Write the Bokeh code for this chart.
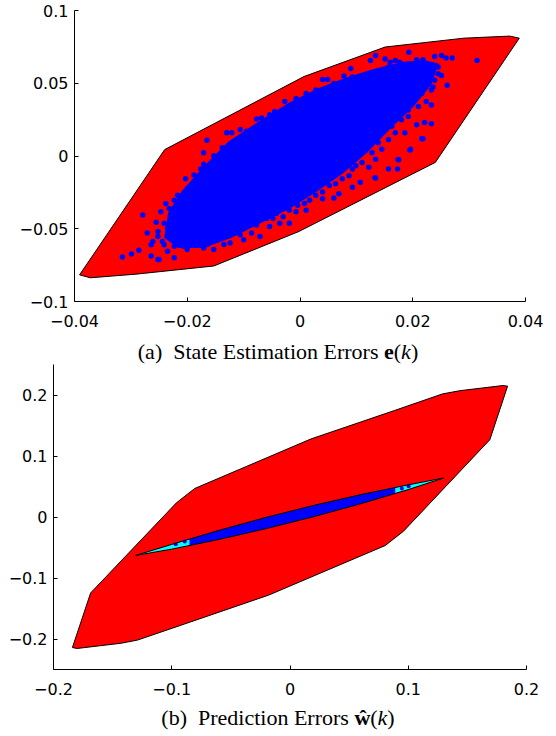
from bokeh.plotting import figure
from bokeh.models import Range1d, Div, FixedTicker, Spacer
from bokeh.layouts import column, row
from bokeh.embed import file_html
from bokeh.resources import INLINE

# ---------------- (a) State estimation errors ----------------
hull_a_x = [-0.0391, -0.0240, 0.0007, 0.0151, 0.0291, 0.0372, 0.0389, 0.0240, -0.0002, -0.0153, -0.0291, -0.0372]
hull_a_y = [-0.0817, 0.0044, 0.0546, 0.0749, 0.0810, 0.0824, 0.0810, -0.0044, -0.0519, -0.0756, -0.0812, -0.0837]

# dense (solid blue) part of the error cloud
core_a_x = [-0.0210, -0.0171, -0.0127, -0.0070, -0.0019, 0.0031, 0.0081, 0.0132, 0.0183, 0.0220, 0.0246,
            0.0233, 0.0202, 0.0163, 0.0120, 0.0076, 0.0031, -0.0019, -0.0070, -0.0121, -0.0171, -0.0216,
            -0.0241, -0.0234]
core_a_y = [-0.0243, -0.0072, 0.0099, 0.0245, 0.0367, 0.0464, 0.0538, 0.0599, 0.0648, 0.0660, 0.0636,
            0.0489, 0.0342, 0.0197, 0.0026, -0.0121, -0.0243, -0.0365, -0.0462, -0.0561, -0.0633, -0.0633,
            -0.0561, -0.0390]

# individual samples around the dense part
pts_a_x = [-0.0279, -0.0299, -0.0286, -0.0271, -0.0255, -0.0252, -0.0264, -0.0250, -0.0238, -0.0232,
           -0.0223, -0.0217, -0.0203, -0.0188, -0.0176, -0.0171, -0.0165, -0.0171, -0.0153, -0.0138,
           -0.0130, -0.0121, -0.0106, -0.0095, -0.0077, -0.0068, -0.0054, -0.0045, -0.0027, -0.0016,
           -0.0007, 0.0011, 0.0028, 0.0040, 0.0049, 0.0060, 0.0078, 0.0090, 0.0093, 0.0110,
           0.0125, 0.0134, 0.0151, 0.0160, 0.0169, 0.0177, 0.0193, 0.0207, 0.0218, 0.0239,
           0.0251, 0.0259, 0.0270, 0.0314, 0.0261, 0.0233, 0.0224, 0.0233, 0.0210, 0.0207,
           0.0221, 0.0233, 0.0216, 0.0195, 0.0186, 0.0175, 0.0173, 0.0157, 0.0134, 0.0122,
           0.0107, 0.0093, 0.0060, 0.0069, 0.0040, 0.0011, -0.0004, -0.0019, -0.0036, -0.0054,
           -0.0071, -0.0086, -0.0100, -0.0124, -0.0135, -0.0153, -0.0171, -0.0188, -0.0206, -0.0223,
           -0.0235, -0.0244, -0.0252, -0.0261, -0.0315, -0.0264, 0.0218, 0.0196, 0.0174, 0.0133,
           -0.0200, -0.0185, -0.0165, -0.0147, -0.0135, -0.0118, -0.0100, -0.0083, -0.0059, -0.0042,
           -0.0030, -0.0001, 0.0017, 0.0034, 0.0052, 0.0069, 0.0099, 0.0116, 0.0139, 0.0157,
           0.0186, 0.0198, 0.0216, 0.0245, 0.0251, 0.0239, 0.0204, 0.0192, 0.0169, 0.0145,
           0.0134, 0.0099, 0.0087, 0.0063, 0.0040, 0.0017, -0.0007, -0.0030, -0.0048, -0.0077,
           -0.0106, -0.0141, -0.0165, -0.0194, -0.0217, -0.0235, -0.0229, -0.0209,
           -0.0247, -0.0241, -0.0229, -0.0214, -0.0206, -0.0194, -0.0185, -0.0174, -0.0191, -0.0159,
           -0.0144, -0.0135, -0.0124, -0.0109, -0.0097, -0.0089, -0.0071, -0.0051, -0.0036, -0.0019,
           0.0005, 0.0025, 0.0046, 0.0063, 0.0081, 0.0099, 0.0116, 0.0134, 0.0151, 0.0169,
           0.0186, 0.0204, 0.0221, 0.0245, 0.0236, 0.0216, 0.0198, 0.0192, 0.0180, 0.0163,
           0.0157, 0.0139, 0.0128, 0.0110, 0.0093, 0.0075, 0.0052, 0.0028, 0.0008, -0.0019,
           -0.0042, -0.0059, -0.0089, -0.0112, -0.0135, -0.0159, -0.0179, -0.0200, -0.0223, -0.0241,
           -0.0252]
pts_a_y = [-0.0406, -0.0673, -0.0648, -0.0530, -0.0456, -0.0519, -0.0610, -0.0711, -0.0327, -0.0361,
           -0.0304, -0.0270, -0.0157, -0.0130, -0.0090, -0.0056, 0.0109, 0.0023, 0.0001, 0.0057,
           0.0159, 0.0159, 0.0182, 0.0170, 0.0254, 0.0261, 0.0283, 0.0306, 0.0374, 0.0351,
           0.0396, 0.0430, 0.0453, 0.0525, 0.0525, 0.0498, 0.0550, 0.0602, 0.0543, 0.0543,
           0.0656, 0.0690, 0.0667, 0.0645, 0.0656, 0.0645, 0.0713, 0.0661, 0.0661, 0.0683,
           0.0690, 0.0674, 0.0674, 0.0656, 0.0487, 0.0453, 0.0374, 0.0351, 0.0340, 0.0215,
           0.0231, 0.0222, 0.0118, 0.0041, 0.0159, -0.0026, -0.0090, -0.0090, -0.0151, -0.0078,
           -0.0180, -0.0214, -0.0288, -0.0259, -0.0293, -0.0372, -0.0338, -0.0463, -0.0463, -0.0485,
           -0.0553, -0.0530, -0.0576, -0.0598, -0.0609, -0.0643, -0.0632, -0.0609, -0.0621, -0.0700,
           -0.0655, -0.0587, -0.0711, -0.0587, -0.0695, -0.0688, 0.0119, 0.0046, -0.0024, -0.0150,
           -0.0225, -0.0191, -0.0112, -0.0044, 0.0001, 0.0057, 0.0114, 0.0159, 0.0227, 0.0245,
           0.0283, 0.0335, 0.0374, 0.0396, 0.0441, 0.0464, 0.0509, 0.0521, 0.0570, 0.0611,
           0.0622, 0.0588, 0.0611, 0.0611, 0.0554, 0.0521, 0.0430, 0.0272, 0.0159, 0.0046,
           -0.0022, -0.0067, -0.0135, -0.0191, -0.0248, -0.0304, -0.0383, -0.0417, -0.0429, -0.0474,
           -0.0542, -0.0564, -0.0609, -0.0564, -0.0564, -0.0496, -0.0429, -0.0316,
           -0.0383, -0.0462, -0.0564, -0.0429, -0.0496, -0.0395, -0.0293, -0.0225, -0.0519, -0.0135,
           -0.0112, -0.0056, -0.0022, 0.0023, 0.0057, 0.0114, 0.0159, 0.0193, 0.0227, 0.0272,
           0.0295, 0.0340, 0.0385, 0.0408, 0.0453, 0.0453, 0.0487, 0.0521, 0.0566, 0.0555,
           0.0532, 0.0543, 0.0566, 0.0566, 0.0475, 0.0430, 0.0385, 0.0317, 0.0249, 0.0204,
           0.0114, 0.0091, 0.0023, -0.0044, -0.0090, -0.0157, -0.0203, -0.0270, -0.0327, -0.0372,
           -0.0395, -0.0429, -0.0462, -0.0496, -0.0542, -0.0553, -0.0576, -0.0643, -0.0621, -0.0610,
           -0.0553]

xticks_a = [-0.04, -0.02, 0, 0.02, 0.04]
xtick_labels_a = ["\u22120.04", "\u22120.02", "0", "0.02", "0.04"]
yticks_a = [-0.1, -0.05, 0, 0.05, 0.1]
ytick_labels_a = ["\u22120.1", "\u22120.05", "0", "0.05", "0.1"]

# ---------------- (b) Prediction errors ----------------
hull_b_x = [-0.184, -0.180, -0.143, -0.129, -0.088, -0.018, 0.0805, 0.096, 0.169, 0.184,
            0.180, 0.1435, 0.129, 0.0884, 0.0178, -0.0805, -0.096, -0.1686]
hull_b_y = [-0.214, -0.2155, -0.207, -0.2018, -0.1746, -0.128, -0.0468, -0.0233, 0.1267, 0.2145,
            0.2155, 0.207, 0.2018, 0.1746, 0.128, 0.0468, 0.0233, -0.1245]

lens_x = [-0.1305, -0.10, -0.06, -0.02, 0.02, 0.06, 0.10, 0.130, 0.10, 0.06, 0.02, -0.02, -0.06, -0.10]
lens_y = [-0.063, -0.0449, -0.0218, -0.0005, 0.019, 0.0368, 0.0527, 0.064, 0.0449, 0.0218, 0.0005,
          -0.019, -0.0368, -0.0527]

lens_blue_x = [-0.085, -0.06, -0.02, 0.02, 0.06, 0.089, 0.089, 0.06, 0.02, -0.02, -0.06, -0.085]
lens_blue_y = [-0.036, -0.0218, -0.0005, 0.019, 0.0368, 0.0484, 0.0384, 0.0218, 0.0005, -0.019, -0.0368, -0.0468]

blob_x = [-0.0966, -0.089, 0.1003, 0.0946]
blob_y = [-0.0445, -0.040, 0.0506, 0.0468]

xticks_b = [-0.2, -0.1, 0, 0.1, 0.2]
xtick_labels_b = ["\u22120.2", "\u22120.1", "0", "0.1", "0.2"]
yticks_b = [-0.2, -0.1, 0, 0.1, 0.2]
ytick_labels_b = ["\u22120.2", "\u22120.1", "0", "0.1", "0.2"]

RED = "#ff0000"
BLUE = "#0000ff"
CYAN = "#00ffff"
TICK_FONT = "DejaVu Sans"


def style(p, xt, xl, yt, yl):
    p.xaxis.ticker = FixedTicker(ticks=xt)
    p.yaxis.ticker = FixedTicker(ticks=yt)
    p.xaxis.major_label_overrides = {t: l for t, l in zip(xt, xl)}
    p.yaxis.major_label_overrides = {t: l for t, l in zip(yt, yl)}
    for ax in (p.xaxis[0], p.yaxis[0]):
        ax.major_tick_in = 4
        ax.major_tick_out = 0
        ax.minor_tick_line_color = None
        ax.axis_line_color = "black"
        ax.axis_line_width = 1
        ax.major_tick_line_color = "black"
        ax.major_label_text_font = TICK_FONT
        ax.major_label_text_font_size = "16px"
        ax.major_label_text_color = "black"
    p.xaxis.major_label_standoff = 13
    p.yaxis.major_label_standoff = 6
    p.xgrid.visible = False
    p.ygrid.visible = False
    p.outline_line_color = None
    p.background_fill_color = "white"
    p.border_fill_color = "white"


pa = figure(width=540, height=341, output_backend="svg", toolbar_location=None,
            x_range=Range1d(-0.04, 0.04), y_range=Range1d(-0.1, 0.1),
            min_border_left=53, min_border_right=31, min_border_top=10, min_border_bottom=40,
            margin=(0, 0, 0, 0))
pa.patch(hull_a_x, hull_a_y, fill_color=RED, line_color="black", line_width=1)
pa.patch(core_a_x, core_a_y, fill_color=BLUE, line_color=None)
pa.scatter(pts_a_x, pts_a_y, size=5.5, fill_color=BLUE, line_color=None)
style(pa, xticks_a, xtick_labels_a, yticks_a, ytick_labels_a)

cap_style = ("font-family:'Liberation Serif','Times New Roman',serif; font-size:22px; "
             "text-align:center; color:black; width:556px; white-space:nowrap;")
div_a = Div(text='<div style="%s line-height:22px;">(a)&nbsp; State Estimation Errors <b>e</b>(<i>k</i>)</div>' % cap_style,
            width=556, height=22, margin=(0, 0, 0, 0))

pb = figure(width=556, height=344, output_backend="svg", toolbar_location=None,
            x_range=Range1d(-0.2, 0.2), y_range=Range1d(-0.25, 0.25),
            min_border_left=53, min_border_right=30, min_border_top=1, min_border_bottom=38,
            margin=(0, 0, 0, 0))
pb.patch(hull_b_x, hull_b_y, fill_color=RED, line_color="black", line_width=1)
pb.patch(lens_x, lens_y, fill_color=CYAN, line_color=None)
pb.patch(lens_blue_x, lens_blue_y, fill_color=BLUE, line_color=None)
pb.scatter(blob_x, blob_y, size=4, fill_color=BLUE, line_color=None)
pb.patch(lens_x, lens_y, fill_color=None, line_color="black", line_width=1)
style(pb, xticks_b, xtick_labels_b, yticks_b, ytick_labels_b)

div_b = Div(text='<div style="%s line-height:22px;">(b)&nbsp; Prediction Errors <b>\u0175</b>(<i>k</i>)</div>' % cap_style,
            width=556, height=22, margin=(0, 0, 0, 0))

top_row = row(Spacer(width=16, height=341, margin=(0, 0, 0, 0)), pa, spacing=0, margin=(0, 0, 0, 0))
layout = column(top_row, div_a, pb, div_b, spacing=0, margin=(0, 0, 0, 0))

open("out.html", "w").write(file_html(layout, INLINE))
